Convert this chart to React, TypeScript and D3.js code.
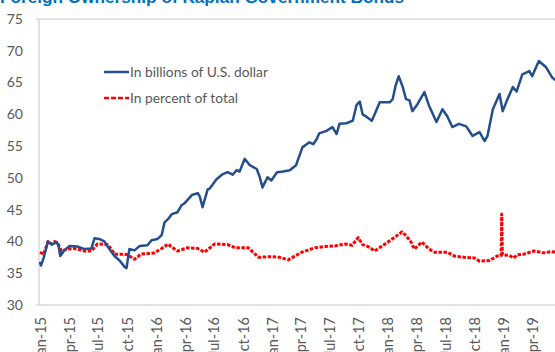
import React, { useEffect, useRef } from "react";
import * as d3 from "d3";

const TITLE = "Foreign Ownership of Kaplan Government Bonds";
const SERIES_NAMES = ["In billions of U.S. dollar", "In percent of total"];
const Y_TICKS = [30, 35, 40, 45, 50, 55, 60, 65, 70, 75];

const billionsDates = [
  "2015-01-01","2015-01-04","2015-01-13","2015-01-26","2015-02-07","2015-02-23","2015-03-01","2015-03-06","2015-03-19","2015-04-04",
  "2015-04-29","2015-05-21","2015-06-12","2015-06-22","2015-07-07","2015-07-23","2015-08-08","2015-08-24","2015-09-09","2015-09-25",
  "2015-10-01","2015-10-10","2015-10-26","2015-11-12","2015-12-06","2015-12-19","2016-01-07","2016-01-20","2016-01-29","2016-02-09",
  "2016-02-21","2016-03-10","2016-03-23","2016-04-01","2016-04-24","2016-05-13","2016-05-19","2016-05-28","2016-06-13","2016-06-19",
  "2016-07-11","2016-07-31","2016-08-15","2016-08-31","2016-09-12","2016-09-22","2016-10-08","2016-10-24","2016-11-15","2016-11-24",
  "2016-12-03","2016-12-19","2016-12-31","2017-01-18","2017-02-06","2017-02-27","2017-03-19","2017-04-08","2017-04-30","2017-05-12",
  "2017-05-22","2017-05-31","2017-06-23","2017-07-12","2017-07-25","2017-08-03","2017-08-25","2017-09-14","2017-09-26","2017-10-06",
  "2017-10-15","2017-10-28","2017-11-13","2017-11-22","2017-12-08","2018-01-09","2018-01-18","2018-01-27","2018-02-06","2018-02-18",
  "2018-03-01","2018-03-12","2018-03-21","2018-04-06","2018-04-28","2018-05-13","2018-06-05","2018-06-24","2018-07-09","2018-07-25",
  "2018-08-15","2018-09-07","2018-09-27","2018-10-19","2018-11-04","2018-11-13","2018-11-30","2018-12-21","2018-12-31","2019-01-12",
  "2019-02-01","2019-02-13","2019-03-03","2019-03-25","2019-04-03","2019-04-24","2019-05-17","2019-06-05","2019-06-18"
];
const billionsValues = [
  36.8, 36.2, 37.5, 40.0, 39.5, 39.9, 39.2, 37.7, 38.6, 39.3,
  39.2, 38.8, 38.9, 40.5, 40.4, 40.0, 38.8, 37.7, 37.0, 36.0,
  35.8, 38.8, 38.6, 39.3, 39.4, 40.2, 40.4, 41.0, 43.0, 43.5,
  44.3, 44.6, 45.7, 46.0, 47.3, 47.6, 47.1, 45.4, 48.2, 48.3,
  49.8, 50.6, 50.9, 50.5, 51.2, 51.0, 53.0, 52.0, 51.4, 50.2,
  48.5, 50.1, 49.6, 50.9, 51.0, 51.2, 52.0, 54.8, 55.6, 55.3,
  56.0, 57.0, 57.4, 58.0, 56.9, 58.5, 58.6, 59.0, 61.5, 62.0,
  60.0, 59.6, 59.0, 60.0, 61.9, 61.9, 62.4, 64.5, 66.0, 64.4,
  62.4, 62.2, 60.5, 61.6, 63.5, 61.3, 58.8, 60.8, 59.7, 58.0,
  58.5, 58.1, 56.6, 57.2, 55.8, 56.6, 60.8, 63.2, 60.5, 62.0,
  64.3, 63.6, 66.3, 66.8, 66.0, 68.4, 67.4, 65.8, 65.3
];

const percentDates = [
  "2015-01-01","2015-01-13","2015-01-26","2015-02-07","2015-02-17","2015-02-26","2015-03-10","2015-03-29","2015-04-17","2015-04-29",
  "2015-05-21","2015-06-12","2015-07-01","2015-08-02","2015-08-14","2015-08-24","2015-09-25","2015-10-04","2015-10-26","2015-11-16",
  "2015-12-28","2016-01-20","2016-02-09","2016-02-21","2016-03-10","2016-04-11","2016-05-13","2016-06-03","2016-07-05","2016-08-15",
  "2016-09-08","2016-10-19","2016-11-21","2016-12-27","2017-01-27","2017-02-22","2017-04-06","2017-05-17","2017-06-19","2017-07-20",
  "2017-08-21","2017-09-12","2017-10-01","2017-10-15","2017-11-01","2017-11-22","2018-01-03","2018-01-28","2018-02-16","2018-03-01",
  "2018-03-17","2018-03-27","2018-04-20","2018-05-13","2018-05-30","2018-07-09","2018-08-01","2018-09-01","2018-10-03","2018-10-19",
  "2018-11-19","2018-12-13","2018-12-26","2018-12-28","2018-12-30","2019-01-20","2019-02-04","2019-02-14","2019-03-08","2019-04-08",
  "2019-05-10","2019-06-01","2019-06-18"
];
const percentValues = [
  38.3, 38.0, 40.0, 39.6, 40.0, 39.7, 38.5, 38.8, 38.9, 38.8,
  38.5, 38.5, 39.6, 39.5, 38.8, 38.0, 38.0, 37.9, 37.2, 38.0,
  38.2, 38.9, 39.6, 39.1, 38.5, 39.0, 38.9, 38.3, 39.6, 39.5,
  39.0, 39.0, 37.5, 37.6, 37.5, 37.1, 38.3, 39.0, 39.2, 39.3,
  39.6, 39.4, 40.6, 39.5, 39.2, 38.5, 39.9, 40.8, 41.5, 40.9,
  39.9, 38.8, 39.9, 38.8, 38.3, 38.3, 37.7, 37.5, 37.4, 36.9,
  37.0, 37.7, 37.8, 44.3, 37.9, 37.8, 37.4, 37.9, 38.0, 38.5,
  38.2, 38.4, 38.3
];

const BLUE = "#254F8C";
const RED = "#FF0000";
const TEXT = "#595959";
const AXIS = "#D9D9D9";
const FONT = "Lato, 'Liberation Sans', sans-serif";

export default function App() {
  const ref = useRef<SVGSVGElement>(null);

  useEffect(() => {
    document.body.style.margin = "0";
    const svg = d3.select(ref.current);
    svg.selectAll("*").remove();

    const parse = d3.timeParse("%Y-%m-%d");
    const blue = billionsDates.map((d, i) => ({ date: parse(d)!, value: billionsValues[i] }));
    const red = percentDates.map((d, i) => ({ date: parse(d)!, value: percentValues[i] }));

    const x = d3.scaleTime()
      .domain([new Date(2015, 0, 1), new Date(2019, 0, 1)])
      .range([40, 503]);
    const y = d3.scaleLinear().domain([30, 75]).range([305, 19]);

    // title (cut at top)
    svg.append("text")
      .attr("x", 0).attr("y", 3)
      .attr("font-family", "'Liberation Sans', Arial, sans-serif")
      .attr("font-weight", "bold")
      .attr("font-size", 17.2)
      .attr("fill", "#0070C0")
      .text(TITLE);

    // plot frame lines
    svg.append("line").attr("x1", 36).attr("x2", 555).attr("y1", y(75)).attr("y2", y(75))
      .attr("stroke", AXIS).attr("stroke-width", 1.5);
    svg.append("line").attr("x1", 39).attr("x2", 39).attr("y1", y(75)).attr("y2", y(30))
      .attr("stroke", AXIS).attr("stroke-width", 1.5);
    svg.append("line").attr("x1", 36).attr("x2", 555).attr("y1", y(30)).attr("y2", y(30))
      .attr("stroke", AXIS).attr("stroke-width", 1.5);

    // y tick labels
    svg.append("g").selectAll("text").data(Y_TICKS).join("text")
      .attr("x", 23).attr("y", (d) => y(d)).attr("dy", "0.35em")
      .attr("text-anchor", "end")
      .attr("font-family", FONT).attr("font-size", 14).attr("fill", TEXT)
      .text((d) => String(d));

    // x tick labels
    const ticks = d3.timeMonth.range(new Date(2015, 0, 1), new Date(2019, 4, 1), 3);
    const fmt = d3.timeFormat("%b-%y");
    svg.append("g").selectAll("text").data(ticks).join("text")
      .attr("transform", (d) => `translate(${x(d) + 1},317) rotate(-90)`)
      .attr("dy", "0.35em")
      .attr("text-anchor", "end")
      .attr("font-family", FONT).attr("font-size", 14.5).attr("fill", TEXT)
      .text((d) => fmt(d));

    const line = d3.line<{ date: Date; value: number }>()
      .x((d) => x(d.date)).y((d) => y(d.value));

    svg.append("path").datum(red).attr("d", line)
      .attr("fill", "none").attr("stroke", RED).attr("stroke-width", 3)
      .attr("stroke-dasharray", "3.5,1.5").attr("stroke-linejoin", "round");
    svg.append("path").datum(blue).attr("d", line)
      .attr("fill", "none").attr("stroke", BLUE).attr("stroke-width", 2.5)
      .attr("stroke-linejoin", "round");

    // legend
    const leg = svg.append("g");
    const items = [
      { name: SERIES_NAMES[0], color: BLUE, dash: null, yy: 72 },
      { name: SERIES_NAMES[1], color: RED, dash: "5,2", yy: 98 },
    ];
    items.forEach((it) => {
      const l = leg.append("line").attr("x1", 104).attr("x2", 129).attr("y1", it.yy).attr("y2", it.yy)
        .attr("stroke", it.color).attr("stroke-width", 2.5);
      if (it.dash) l.attr("stroke-dasharray", it.dash);
      leg.append("text").attr("x", 130).attr("y", it.yy).attr("dy", "0.35em")
        .attr("font-family", FONT).attr("font-size", 13.8).attr("fill", TEXT)
        .text(it.name);
    });
  }, []);

  return (
    <svg ref={ref} width={555} height={352}
      style={{ position: "fixed", left: 0, top: 0, background: "#fff", display: "block" }} />
  );
}
